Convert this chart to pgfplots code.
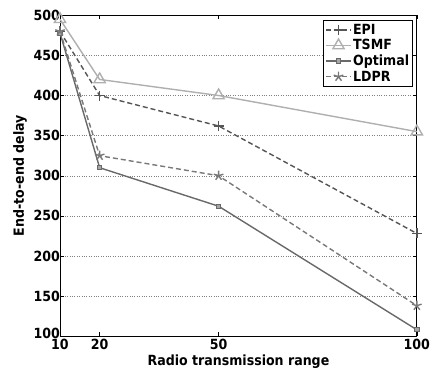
\documentclass[border={10pt 0pt 0pt 9pt}]{standalone}
\usepackage{pgfplots}
\pgfplotsset{compat=1.18}
\usepackage{fontspec}
\setmainfont{DejaVu Sans Condensed}
\begin{document}
\begin{tikzpicture}
\definecolor{cepi}{RGB}{85,85,85}
\definecolor{ctsmf}{RGB}{175,175,175}
\definecolor{copt}{RGB}{105,105,105}
\definecolor{cldpr}{RGB}{120,120,120}
\begin{axis}[
  scale only axis, width=357pt, height=321pt,
  xmin=10, xmax=100, ymin=100, ymax=500,
  xtick={10,20,50,100}, ytick={100,150,...,500},
  yticklabels={\raisebox{6pt}{100},150,200,250,300,350,400,450,500},
  tick align=inside, major tick length=4pt, tick style={black, thin},
  ymajorgrids, grid style={dotted, gray, thin},
  font=\bfseries\fontsize{14}{16}\selectfont,
  /pgf/number format/assume math mode=true,
  xticklabel style={inner sep=1pt, yshift=-2pt},
  yticklabel style={inner sep=1pt, xshift=1pt},
  xlabel={Radio transmission range}, ylabel={End-to-end delay},
  xlabel style={yshift=0pt}, ylabel style={yshift=2pt},
  axis line style={black, thick},
  clip=false,
  legend style={at={(0.99,0.985)}, anchor=north east, draw=black, thick, font=\bfseries\fontsize{14}{16}\selectfont, inner sep=2pt, row sep=0pt, nodes={inner sep=1.8pt}},
  legend cell align=left,
  legend image code/.code={\draw[#1] (0cm,0cm) -- (0.85cm,0cm); \draw[#1] plot coordinates {(0.425cm,0cm)};},
  every axis plot/.append style={line width=1.4pt},
]
\addplot[cepi, dash pattern=on 5pt off 3pt, mark=+, mark size=5pt, mark options={solid}] coordinates {(10,480) (20,400) (50,362) (100,228)};
\addlegendentry{EPI}
\addplot[ctsmf, mark=triangle, mark size=6.5pt, mark options={solid}] coordinates {(10,495) (20,420) (50,400) (100,355)};
\addlegendentry{TSMF}
\addplot[copt, mark=square*, mark size=2.2pt, mark options={solid, fill=gray!70, line width=1pt}] coordinates {(10,478) (20,310) (50,262) (100,108)};
\addlegendentry{Optimal}
\addplot[cldpr, dash pattern=on 5pt off 3pt, mark=star, mark size=5pt, mark options={solid}] coordinates {(10,480) (20,325) (50,300) (100,138)};
\addlegendentry{LDPR}
\end{axis}
\end{tikzpicture}
\end{document}
